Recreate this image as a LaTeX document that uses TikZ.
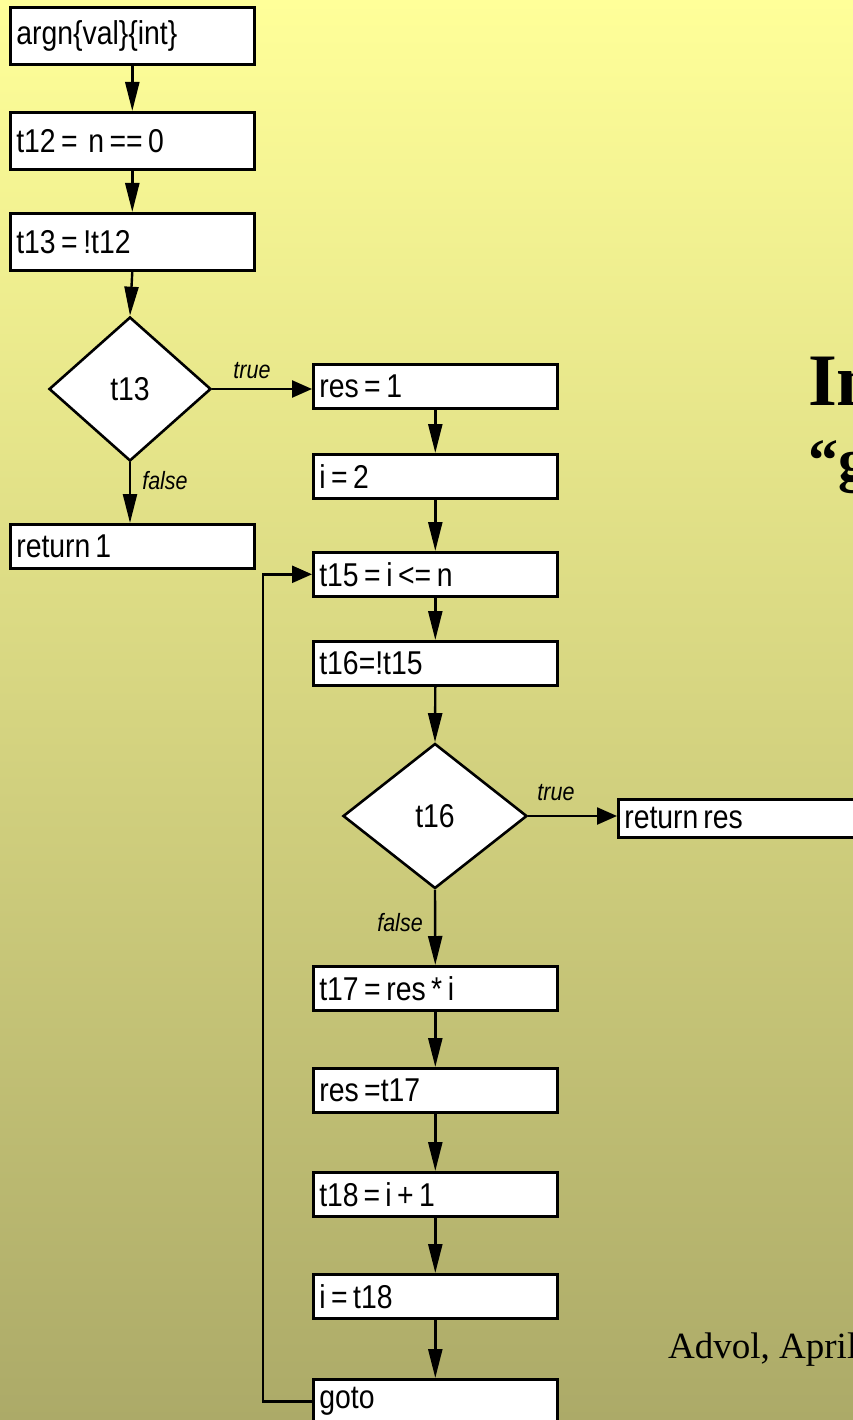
\documentclass[tikz,border=0pt]{standalone}
\usepackage{fontspec}
\setmainfont{Liberation Sans}[FakeStretch=0.86]
\newfontfamily\titlefont{Liberation Serif}
\usetikzlibrary{shapes.geometric,arrows.meta}
\definecolor{bgtop}{RGB}{255,255,153}
\definecolor{bgbot}{RGB}{172,170,104}
\newcommand\myboxfont{\fontsize{33}{36}\selectfont\spaceskip=5pt plus 1pt\relax}
\begin{document}
\begin{tikzpicture}[x=1pt,y=-1pt,
 box/.style={draw=black,fill=white,line width=2.6pt,anchor=north west,inner xsep=6pt,inner ysep=0pt,text width=232pt,minimum height=44pt,font=\myboxfont,execute at begin node={\spaceskip=5pt plus 1pt\relax}},
 dec/.style={diamond,draw=black,fill=white,line width=2.6pt,inner sep=0pt,font=\fontsize{33}{36}\selectfont},
 arr/.style={line width=2.4pt,-{Triangle[length=29pt,width=14pt]}},
 harr/.style={line width=2.4pt,-{Triangle[length=20pt,width=17pt]}},
 lbl/.style={font=\fontsize{25}{28}\selectfont\itshape,inner sep=0pt},
 ttl/.style={anchor=base west,inner sep=0pt}]
\useasboundingbox (0,0) rectangle (853,1420);
\fill[top color=bgtop,bottom color=bgbot] (0,0) rectangle (853,1420);
\clip (0,0) rectangle (853,1420);
% left column
\node[box,minimum height=57pt] (argn) at (9,6) {argn\{val\}\{int\}};
\node[box,minimum height=57pt] (t12) at (9,111) {t12\,= \,n\,==\,0};
\node[box,minimum height=57pt] (t13) at (9,212) {t13\,=\,!t12};
\node[dec,minimum width=162pt,minimum height=144pt] (d13) at (130,389) {t13};
\node[box] (ret1) at (9,523) {return 1};
% middle column
\node[box] (res1) at (312,363) {res\,=\,1};
\node[box] (i2) at (312,453) {i\,=\,2};
\node[box] (t15) at (312,551) {t15\,=\,i\,<=\,n};
\node[box] (t16) at (312,640) {t16=!t15};
\node[dec,minimum width=184pt,minimum height=145pt] (d16) at (435,816) {t16};
\node[box,minimum height=38pt] (retres) at (617,798) {return res};
\node[box] (t17) at (312,965) {t17\,=\,res\,*\,i};
\node[box] (res17) at (312,1067) {res\,=t17};
\node[box] (t18) at (312,1171) {t18 = i\,+\,1};
\node[box] (i18) at (312,1273) {i\,=\,t18};
\node[box] (goto) at (312,1378) {goto};
% connectors
\draw[arr] (argn.south) -- (t12.north);
\draw[arr] (t12.south) -- (t13.north);
\draw[arr] (t13.south) -- (d13.north);
\draw[arr] (d13.south) -- (ret1.north -| d13.south);
\draw[harr] (d13.east) -- (d13.east -| res1.west);
\draw[arr] (res1.south) -- (i2.north);
\draw[arr] (i2.south) -- (t15.north);
\draw[arr] (t15.south) -- (t16.north);
\draw[arr] (t16.south) -- (d16.north);
\draw[harr] (d16.east) -- (d16.east -| retres.west);
\draw[arr] (d16.south) -- (t17.north);
\draw[arr] (t17.south) -- (res17.north);
\draw[arr] (res17.south) -- (t18.north);
\draw[arr] (t18.south) -- (i18.north);
\draw[arr] (i18.south) -- (goto.north);
\draw[harr] (goto.west) -- ++(-49,0) |- (t15.west);
% labels
\node[lbl] (l1) at (252,371) {true};
\node[lbl] (l2) at (165,481) {false};
\node[lbl] (l3) at (556,793) {true};
\node[lbl] (l4) at (400,923) {false};
% title and footer
\node[ttl,font=\titlefont\bfseries\fontsize{74}{80}\selectfont] (title) at (808,405) {In};
\node[ttl,font=\titlefont\bfseries\fontsize{60}{66}\selectfont] (sub) at (808,480) {“g};
\node[ttl,font=\titlefont\fontsize{37}{42}\selectfont] (foot) at (668,1358) {Advol, April};
\end{tikzpicture}
\end{document}
